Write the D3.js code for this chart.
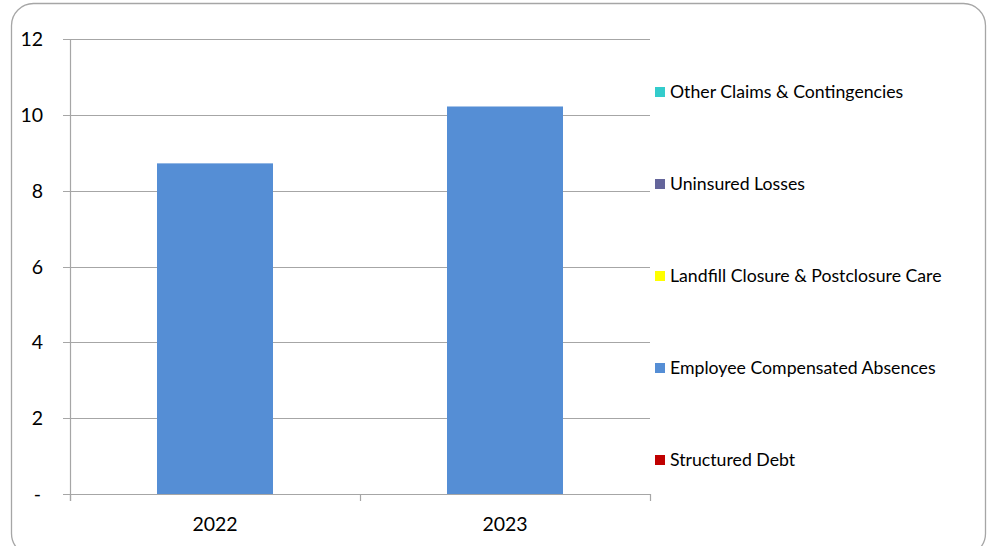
<!DOCTYPE html>
<html>
<head>
<meta charset="utf-8">
<script src="https://cdn.jsdelivr.net/npm/d3@7"></script>
<style>
  body { margin: 0; background: #fff; }
  svg text { font-family: Lato, "Open Sans", sans-serif; fill: #000; }
</style>
</head>
<body>
<div id="chart"></div>
<script>
const years = ['2022', '2023']
const seriesNames = ['Structured Debt', 'Employee Compensated Absences', 'Landfill Closure & Postclosure Care', 'Uninsured Losses', 'Other Claims & Contingencies']
const seriesColors = ['#c00000', '#558ed5', '#ffff00', '#64659b', '#33cccc']
const structuredDebt = [0, 0]
const compensatedAbsences = [8.72, 10.22]
const landfill = [0, 0]
const uninsured = [0, 0]
const otherClaims = [0, 0]
const yTicks = [0, 2, 4, 6, 8, 10, 12]

let width = 1002, height = 546

let svg = d3.select('#chart').append('svg')
.attr('width', width)
.attr('height', height)

// outer frame, bottom edge runs just past the window
svg.append('rect')
.attr('x', 11.5).attr('y', 3.5)
.attr('width', 974).attr('height', 552)
.attr('rx', 22).attr('ry', 22)
.style('fill', '#fff')
.style('stroke', '#a6a6a6')
.style('stroke-width', 1.3)

let plot = { left: 70, right: 650, top: 39, bottom: 494 }

let x = d3.scaleBand()
.domain(years)
.range([plot.left, plot.right])
.paddingInner(0.6)
.paddingOuter(0.3)

let y = d3.scaleLinear()
.domain([0, 12])
.range([plot.bottom, plot.top])

// gridlines
svg.append('g').selectAll('line')
.data(yTicks)
.enter()
.append('line')
.attr('x1', plot.left - 7)
.attr('x2', plot.right)
.attr('y1', d => Math.round(y(d)) + 0.5)
.attr('y2', d => Math.round(y(d)) + 0.5)
.style('stroke', '#a6a6a6')
.style('stroke-width', 1.2)

// stacked bars
const table = years.map((yr, i) => ({
  year: yr,
  'Structured Debt': structuredDebt[i],
  'Employee Compensated Absences': compensatedAbsences[i],
  'Landfill Closure & Postclosure Care': landfill[i],
  'Uninsured Losses': uninsured[i],
  'Other Claims & Contingencies': otherClaims[i]
}))
const stacked = d3.stack().keys(seriesNames)(table)

svg.append('g').selectAll('g')
.data(stacked)
.enter()
.append('g')
.style('fill', (d, i) => seriesColors[i])
.selectAll('rect')
.data(d => d)
.enter()
.append('rect')
.attr('x', d => x(d.data.year))
.attr('width', x.bandwidth())
.attr('y', d => y(d[1]))
.attr('height', d => y(d[0]) - y(d[1]))

// y axis line
svg.append('line')
.attr('x1', plot.left + 0.5).attr('x2', plot.left + 0.5)
.attr('y1', plot.top).attr('y2', plot.bottom + 7)
.style('stroke', '#a6a6a6').style('stroke-width', 1.2)

// x axis ticks
let xTickPos = [plot.left, (plot.left + plot.right) / 2, plot.right]
svg.append('g').selectAll('line')
.data(xTickPos)
.enter()
.append('line')
.attr('x1', d => d + 0.5).attr('x2', d => d + 0.5)
.attr('y1', plot.bottom).attr('y2', plot.bottom + 7)
.style('stroke', '#a6a6a6').style('stroke-width', 1.2)

// y labels
svg.append('g').selectAll('text')
.data(yTicks)
.enter()
.append('text')
.attr('x', d => d === 0 ? 41 : 43)
.attr('y', d => y(d) + 7)
.attr('text-anchor', 'end')
.style('font-size', '19.5px')
.text(d => d === 0 ? '-' : d)

// x labels
svg.append('g').selectAll('text')
.data(years)
.enter()
.append('text')
.attr('x', d => x(d) + x.bandwidth() / 2)
.attr('y', 531)
.attr('text-anchor', 'middle')
.style('font-size', '19.5px')
.text(d => d)

// legend, top item is last series
let legend = svg.append('g').selectAll('g')
.data(seriesNames.map((n, i) => ({ name: n, color: seriesColors[i] })).reverse())
.enter()
.append('g')
.attr('transform', (d, i) => `translate(655, ${92 + i * 92})`)

legend.append('rect')
.attr('x', 0).attr('y', -5)
.attr('width', 10).attr('height', 10)
.style('fill', d => d.color)

legend.append('text')
.attr('x', 15)
.attr('y', 6)
.style('font-size', '17.7px')
.text(d => d.name)
</script>
</body>
</html>
